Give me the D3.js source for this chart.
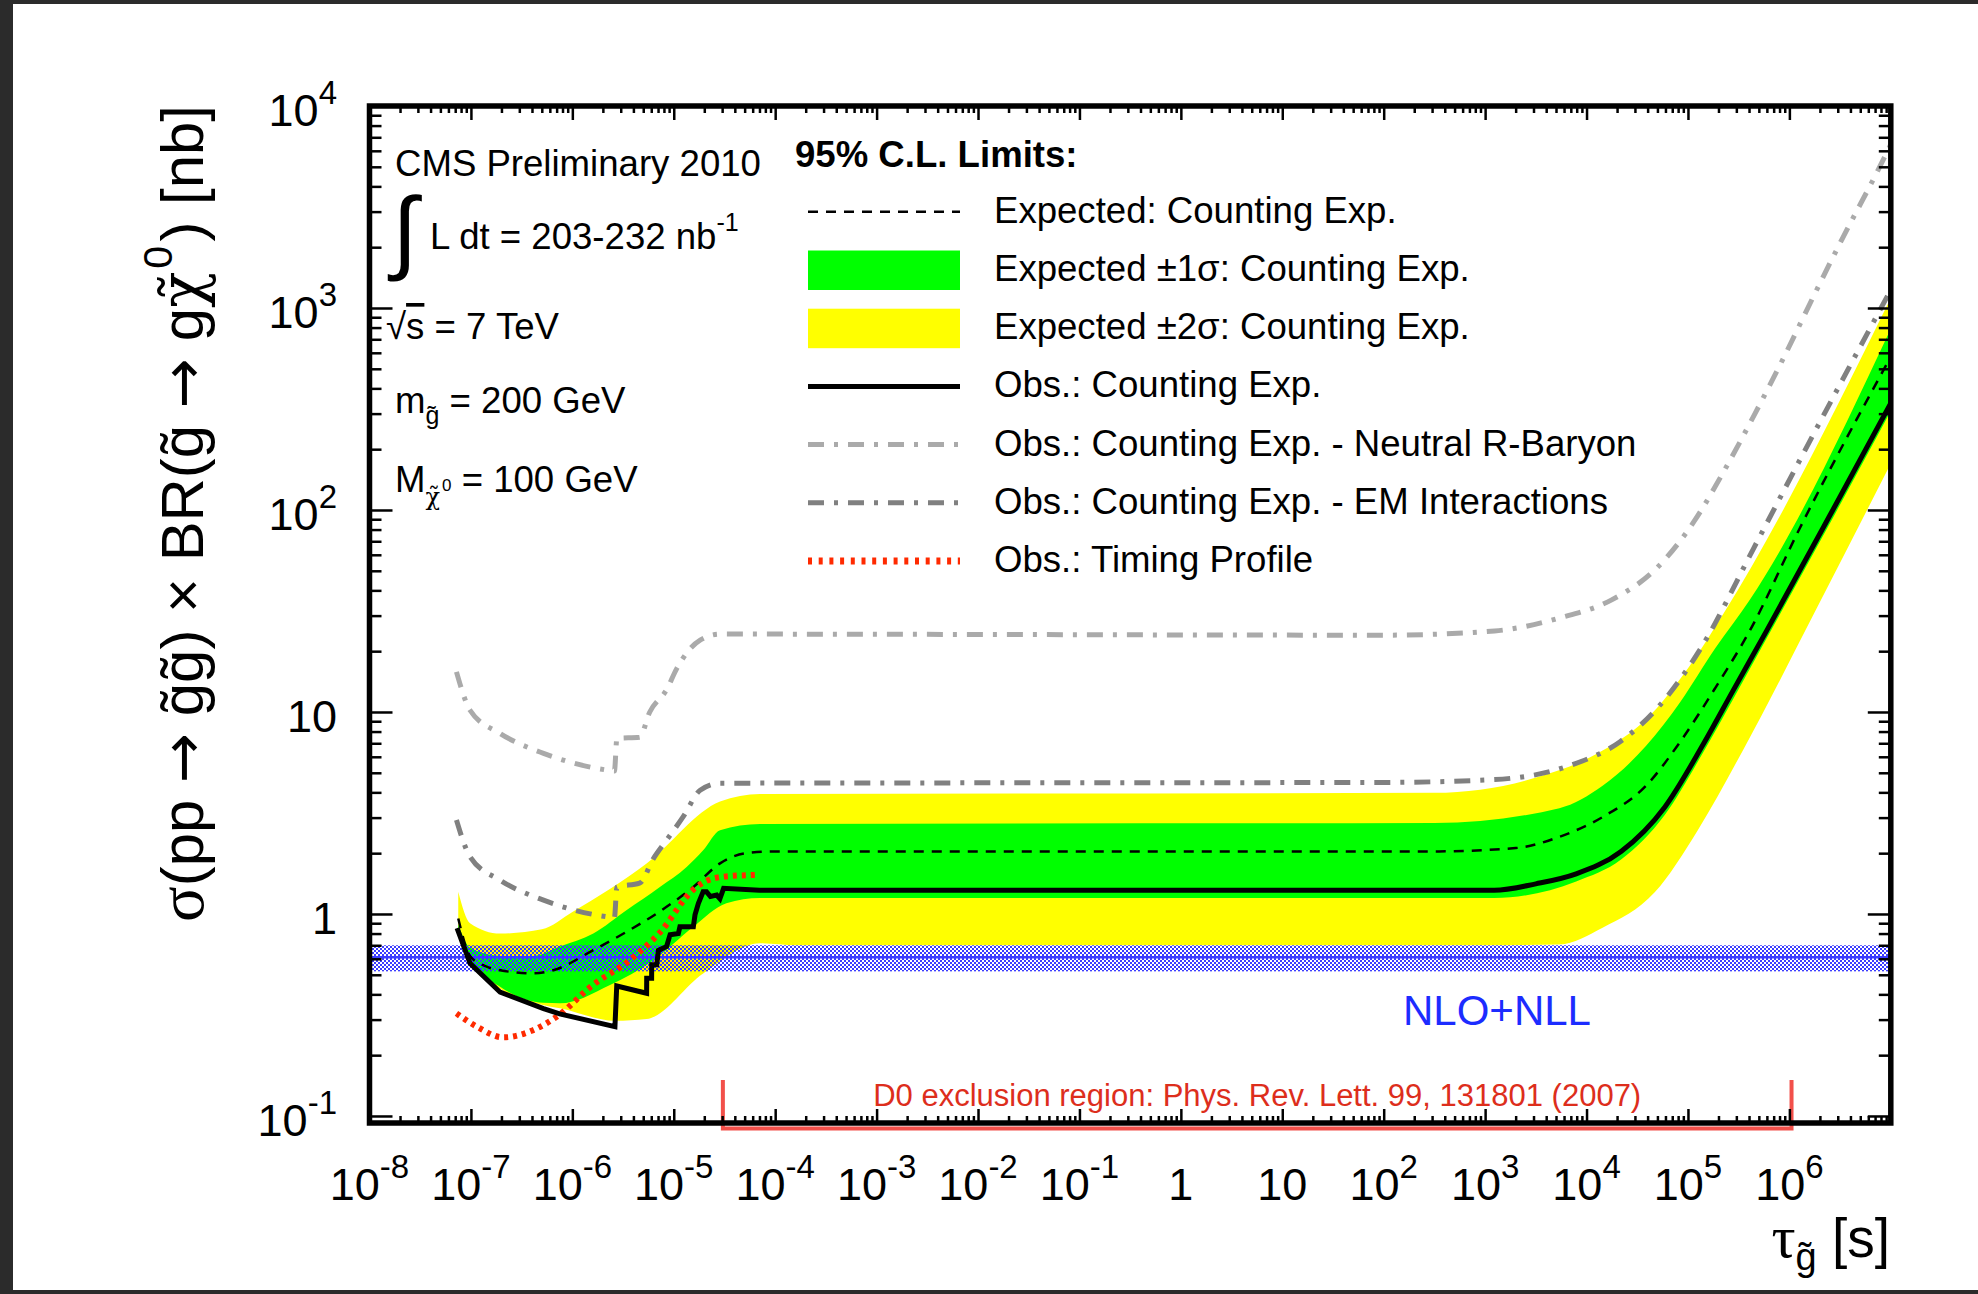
<!DOCTYPE html>
<html>
<head>
<meta charset="utf-8">
<script src="https://cdn.jsdelivr.net/npm/d3@7"></script>
<style>
  html, body { margin: 0; padding: 0; background: #2b2b2b; }
  svg { display: block; }
  text { font-family: "Liberation Sans", Arial, Helvetica, sans-serif; }
  .greek { font-family: "Liberation Serif", "Times New Roman", serif; }
  .chi { font-family: "DejaVu Serif", serif; }
  .arrow { font-family: "DejaVu Sans", sans-serif; }
</style>
</head>
<body>
<svg id="chart" width="1978" height="1294"></svg>
<script>
// ---------------------------------------------------------------
// Stopped-gluino search: 95% C.L. cross-section limits vs lifetime
// lifetimes in seconds, cross sections in nb
// ---------------------------------------------------------------

// Observed limit, counting experiment (step region, then smooth long-lifetime part)
const obsStepTau   = [7.3e-8, 9.8e-8, 1.94e-7, 5.2e-7, 7.5e-7, 2.63e-6, 2.74e-6, 5.4e-6, 5.41e-6, 6.05e-6, 6.06e-6, 6.8e-6, 7.05e-6, 8.5e-6, 9.2e-6, 1.11e-5, 1.15e-5, 1.56e-5, 1.62e-5, 1.75e-5, 1.95e-5, 2.1e-5, 2.3e-5, 2.65e-5, 2.85e-5, 3.1e-5, 7e-5];
const obsStepLimit = [0.85, 0.57, 0.41, 0.34, 0.32, 0.277, 0.44, 0.405, 0.48, 0.48, 0.56, 0.56, 0.66, 0.69, 0.79, 0.80, 0.865, 0.865, 0.99, 1.13, 1.29, 1.29, 1.22, 1.24, 1.19, 1.34, 1.31];
const obsLongTau   = [7e-5, 1.23e3, 3.16e3, 7.9e3, 2.19e4, 5.9e4, 1.41e5, 2.82e5, 5.9e5, 2.45e6, 1e7];
const obsLongLimit = [1.31, 1.31, 1.41, 1.58, 2.04, 3.38, 6.9, 12.9, 25, 92, 338];

// Expected limit, counting experiment
const expTau   = [7.5e-8, 9.8e-8, 1.41e-7, 1.94e-7, 4.1e-7, 6.5e-7, 1.61e-6, 3.44e-6, 7.3e-6, 1.56e-5, 2.86e-5, 5.2e-5, 1e-4, 316, 2e3, 5.4e3, 1.44e4, 3.85e4, 8.4e4, 1.85e5, 4.06e5, 1.27e6, 1e7];
const expLimit = [0.95, 0.62, 0.55, 0.527, 0.508, 0.527, 0.662, 0.817, 1.03, 1.36, 1.78, 2.0, 2.04, 2.04, 2.12, 2.41, 3.02, 4.31, 7.13, 13.1, 25.2, 81.5, 575];

// Expected +-1 sigma band
const exp1UpTau = [7.5e-8, 9.8e-8, 1.94e-7, 4.1e-7, 7.55e-7, 1.61e-6, 3.44e-6, 7.3e-6, 1.34e-5, 1.95e-5, 2.86e-5, 7.1e-5, 316, 5.4e3, 1.44e4, 3.85e4, 8.4e4, 1.85e5, 4.06e5, 1e7];
const exp1Up    = [0.89, 0.68, 0.62, 0.62, 0.69, 0.80, 1.045, 1.36, 1.71, 2.07, 2.6, 2.79, 2.82, 3.34, 4.31, 6.78, 11.2, 20.6, 35.8, 790];
const exp1DnTau = [7.5e-8, 9.8e-8, 1.94e-7, 5.2e-7, 7.55e-7, 2.35e-6, 6.3e-6, 1.56e-5, 3.3e-5, 7.1e-5, 1.23e3, 7.9e3, 2.19e4, 5.9e4, 1.41e5, 2.82e5, 5.9e5, 2.45e6, 1e7];
const exp1Dn    = [0.81, 0.59, 0.436, 0.363, 0.361, 0.445, 0.59, 0.865, 1.13, 1.2, 1.2, 1.45, 1.86, 3.09, 6.3, 11.7, 22.9, 84, 309];

// Expected +-2 sigma band
const exp2UpTau = [7.5e-8, 9.8e-8, 1.94e-7, 5e-7, 1.02e-6, 5.4e-6, 2.86e-5, 7.1e-5, 316, 3.3e3, 1.44e4, 3.85e4, 1.03e5, 2.25e5, 1e7];
const exp2Up    = [1.29, 0.90, 0.80, 0.84, 1.03, 1.78, 3.6, 3.93, 3.98, 4.76, 6.44, 9.18, 16.8, 30.8, 1120];
const exp2DnTau = [7.5e-8, 9.8e-8, 1.94e-7, 5e-7, 7.55e-7, 2.64e-6, 5.4e-6, 1.95e-5, 7.1e-5, 1.6e-4, 1e3, 5.4e3, 1.44e4, 4.7e4, 1.25e5, 3.5e5, 1.86e6, 1e7];
const exp2Dn    = [0.79, 0.575, 0.427, 0.355, 0.341, 0.296, 0.302, 0.508, 0.716, 0.70, 0.70, 0.706, 0.855, 1.28, 2.6, 6.49, 32.6, 170];

// Observed limit, neutral R-baryon model
const rbTau   = [7.2e-8, 9.8e-8, 1.94e-7, 5.2e-7, 2.18e-6, 2.6e-6, 2.75e-6, 4.6e-6, 5.8e-6, 8.5e-6, 1.07e-5, 1.82e-5, 2.86e-5, 100, 1.24e3, 5.4e3, 1.75e4, 5.1e4, 1.17e5, 2.3e5, 4.5e5, 8.7e5, 1.7e6, 3.3e6, 7.1e6, 1e7];
const rbLimit = [15.8, 10.2, 7.83, 6.24, 5.16, 5.1, 7.4, 7.5, 10.0, 12.9, 16.4, 22.7, 24.3, 24.0, 25.2, 29.2, 35.8, 52.5, 89, 158, 295, 562, 1122, 2188, 4571, 6457];

// Observed limit, EM interactions model
const emTau   = [7.2e-8, 9.8e-8, 1.94e-7, 5.2e-7, 2.18e-6, 2.6e-6, 2.75e-6, 4.6e-6, 6.3e-6, 8.5e-6, 1.24e-5, 1.82e-5, 2.86e-5, 100, 1.24e3, 6.6e3, 2.14e4, 5.2e4, 1.31e5, 4.47e5, 1.27e6, 1e7];
const emLimit = [2.92, 1.92, 1.47, 1.17, 0.97, 0.96, 1.36, 1.42, 1.88, 2.32, 3.03, 4.1, 4.44, 4.48, 4.63, 5.4, 7.13, 10.7, 20.3, 65, 177, 1230];

// Observed limit, timing profile analysis
const timingTau   = [7.2e-8, 1.14e-7, 2.08e-7, 4.1e-7, 7.0e-7, 1.61e-6, 3.44e-6, 7.3e-6, 1.56e-5, 1.95e-5, 3.08e-5, 6.3e-5];
const timingLimit = [0.322, 0.277, 0.245, 0.266, 0.31, 0.447, 0.575, 0.81, 1.32, 1.43, 1.53, 1.56];

// NLO+NLL gluino-pair cross section (central value and uncertainty band)
const nloXsec = 0.61;
const nloBand = [0.52, 0.70];

// D0 exclusion range in lifetime
const d0Range = [3.05e-5, 1.05e6];

// Axis tick labels (mantissa + exponent)
const xTickValues = [1e-8, 1e-7, 1e-6, 1e-5, 1e-4, 1e-3, 1e-2, 1e-1, 1, 10, 100, 1e3, 1e4, 1e5, 1e6];
const xTickMain   = ["10", "10", "10", "10", "10", "10", "10", "10", "1", "10", "10", "10", "10", "10", "10"];
const xTickSup    = ["-8", "-7", "-6", "-5", "-4", "-3", "-2", "-1", "", "", "2", "3", "4", "5", "6"];
const yTickValues = [0.1, 1, 10, 100, 1000, 10000];
const yTickMain   = ["10", "1", "10", "10", "10", "10"];
const yTickSup    = ["-1", "", "", "2", "3", "4"];

const legendTitle  = "95% C.L. Limits:";
const legendLabels = [
  "Expected: Counting Exp.",
  "Expected \u00b11\u03c3: Counting Exp.",
  "Expected \u00b12\u03c3: Counting Exp.",
  "Obs.: Counting Exp.",
  "Obs.: Counting Exp. - Neutral R-Baryon",
  "Obs.: Counting Exp. - EM Interactions",
  "Obs.: Timing Profile"
];

// ---------------------------------------------------------------
const W = 1978, H = 1294;
const frame = { left: 369.5, right: 1890.8, top: 106, bottom: 1123 };

const svg = d3.select("#chart");
const defs = svg.append("defs");

// page: dark surround with white canvas
svg.append("rect").attr("width", W).attr("height", H).attr("fill", "#2b2b2b");
svg.append("rect").attr("x", 13).attr("y", 4).attr("width", W - 13).attr("height", H - 8).attr("fill", "#ffffff");

const x = d3.scaleLog().domain([1e-8, 1e7]).range([frame.left, frame.right]);
const y = d3.scaleLog().domain([0.0923, 1e4]).range([frame.bottom, frame.top]);

defs.append("clipPath").attr("id", "plotClip")
  .append("rect")
  .attr("x", frame.left).attr("y", frame.top)
  .attr("width", frame.right - frame.left).attr("height", frame.bottom - frame.top);

// checkered hatch for the theory band
const pat = defs.append("pattern").attr("id", "checker")
  .attr("width", 4).attr("height", 4).attr("patternUnits", "userSpaceOnUse");
pat.append("rect").attr("x", 0).attr("y", 0).attr("width", 2).attr("height", 2).attr("fill", "#3c3cff");
pat.append("rect").attr("x", 2).attr("y", 2).attr("width", 2).attr("height", 2).attr("fill", "#3c3cff");

const plot = svg.append("g").attr("clip-path", "url(#plotClip)");

const straight = d3.line().x(d => x(d[0])).y(d => y(d[1]));
const smooth = d3.line().x(d => x(d[0])).y(d => y(d[1])).curve(d3.curveMonotoneX);

function bandPath(upT, upV, dnT, dnV) {
  const up = d3.zip(upT, upV);
  const dn = d3.zip(dnT, dnV).reverse();
  return smooth(up) + smooth(dn).replace(/^M/, "L") + "Z";
}

// +-2 sigma and +-1 sigma bands
plot.append("path").attr("d", bandPath(exp2UpTau, exp2Up, exp2DnTau, exp2Dn)).attr("fill", "#ffff00");
plot.append("path").attr("d", bandPath(exp1UpTau, exp1Up, exp1DnTau, exp1Dn)).attr("fill", "#00ff00");

// NLO+NLL band
plot.append("rect")
  .attr("x", frame.left).attr("width", frame.right - frame.left)
  .attr("y", y(nloBand[1])).attr("height", y(nloBand[0]) - y(nloBand[1]))
  .attr("fill", "url(#checker)");
plot.append("line")
  .attr("x1", frame.left).attr("x2", frame.right)
  .attr("y1", y(nloXsec)).attr("y2", y(nloXsec))
  .attr("stroke", "#3c3cff").attr("stroke-width", 2.5);

// alternative-model limits
const dashDot = "16,10,4,10";
plot.append("path").attr("d", smooth(d3.zip(rbTau, rbLimit)))
  .attr("fill", "none").attr("stroke", "#aaaaaa").attr("stroke-width", 5).attr("stroke-dasharray", dashDot);
plot.append("path").attr("d", smooth(d3.zip(emTau, emLimit)))
  .attr("fill", "none").attr("stroke", "#808080").attr("stroke-width", 5).attr("stroke-dasharray", dashDot);

// expected limit
plot.append("path").attr("d", smooth(d3.zip(expTau, expLimit)))
  .attr("fill", "none").attr("stroke", "#000").attr("stroke-width", 2.5).attr("stroke-dasharray", "10,8");

// timing-profile limit
plot.append("path").attr("d", smooth(d3.zip(timingTau, timingLimit)))
  .attr("fill", "none").attr("stroke", "#ff2a00").attr("stroke-width", 6).attr("stroke-dasharray", "4,5");

// observed limit
const obsPath = straight(d3.zip(obsStepTau, obsStepLimit)) +
  smooth(d3.zip(obsLongTau, obsLongLimit)).replace(/^M/, "L");
plot.append("path").attr("d", obsPath)
  .attr("fill", "none").attr("stroke", "#000").attr("stroke-width", 5)
  .attr("stroke-linejoin", "miter").attr("stroke-miterlimit", 4);

// D0 exclusion bracket
svg.append("path")
  .attr("d", `M${x(d0Range[0])},1080V1128.5H${x(d0Range[1])}V1080`)
  .attr("fill", "none").attr("stroke", "#f2504a").attr("stroke-width", 4);
svg.append("text")
  .attr("x", (x(d0Range[0]) + x(d0Range[1])) / 2).attr("y", 1106)
  .attr("text-anchor", "middle").attr("font-size", 31).attr("fill", "#dd2e1c")
  .text("D0 exclusion region: Phys. Rev. Lett. 99, 131801 (2007)");

svg.append("text").attr("x", 1403).attr("y", 1025)
  .attr("font-size", 42).attr("fill", "#1c2cff").text("NLO+NLL");

// ---------------- axes (ticks inside the frame) ----------------
function minorTicks(domainLo, domainHi) {
  const out = [];
  for (let e = Math.floor(Math.log10(domainLo)); e <= Math.ceil(Math.log10(domainHi)); e++) {
    for (let m = 2; m <= 9; m++) {
      const v = m * Math.pow(10, e);
      if (v > domainLo && v < domainHi) out.push(v);
    }
  }
  return out;
}
const xMinor = minorTicks(1e-8, 1e7);
const yMinor = minorTicks(0.0923, 1e4);
const xMajor = xTickValues.concat([1e7]);
const yMajor = yTickValues;

function styleAxis(g) {
  g.select(".domain").remove();
  g.selectAll("line").attr("stroke", "#000").attr("stroke-width", 2.5);
}
const axes = svg.append("g");
axes.append("g").attr("transform", `translate(${frame.left},0)`)
  .call(d3.axisLeft(y).tickValues(yMajor).tickSize(-23).tickSizeOuter(0).tickFormat("")).call(styleAxis);
axes.append("g").attr("transform", `translate(${frame.left},0)`)
  .call(d3.axisLeft(y).tickValues(yMinor).tickSize(-12).tickSizeOuter(0).tickFormat("")).call(styleAxis);
axes.append("g").attr("transform", `translate(${frame.right},0)`)
  .call(d3.axisRight(y).tickValues(yMajor).tickSize(-23).tickSizeOuter(0).tickFormat("")).call(styleAxis);
axes.append("g").attr("transform", `translate(${frame.right},0)`)
  .call(d3.axisRight(y).tickValues(yMinor).tickSize(-12).tickSizeOuter(0).tickFormat("")).call(styleAxis);
axes.append("g").attr("transform", `translate(0,${frame.bottom})`)
  .call(d3.axisBottom(x).tickValues(xMajor).tickSize(-14).tickSizeOuter(0).tickFormat("")).call(styleAxis);
axes.append("g").attr("transform", `translate(0,${frame.bottom})`)
  .call(d3.axisBottom(x).tickValues(xMinor).tickSize(-7).tickSizeOuter(0).tickFormat("")).call(styleAxis);
axes.append("g").attr("transform", `translate(0,${frame.top})`)
  .call(d3.axisTop(x).tickValues(xMajor).tickSize(-14).tickSizeOuter(0).tickFormat("")).call(styleAxis);
axes.append("g").attr("transform", `translate(0,${frame.top})`)
  .call(d3.axisTop(x).tickValues(xMinor).tickSize(-7).tickSizeOuter(0).tickFormat("")).call(styleAxis);

// frame
svg.append("rect")
  .attr("x", frame.left).attr("y", frame.top)
  .attr("width", frame.right - frame.left).attr("height", frame.bottom - frame.top)
  .attr("fill", "none").attr("stroke", "#000").attr("stroke-width", 5.5);

// tick labels
function powerLabel(parent, px, py, main, sup, anchor) {
  const t = parent.append("text").attr("x", px).attr("y", py)
    .attr("text-anchor", anchor).attr("font-size", 45).attr("fill", "#000");
  t.append("tspan").text(main);
  if (sup) t.append("tspan").attr("font-size", 33).attr("dy", -22).text(sup);
}
const labels = svg.append("g");
xTickValues.forEach((v, i) => powerLabel(labels, x(v), 1200, xTickMain[i], xTickSup[i], "middle"));
yTickValues.forEach((v, i) => powerLabel(labels, 337, y(v) + 20, yTickMain[i], yTickSup[i], "end"));

// axis titles
const xt = svg.append("text").attr("x", 1890).attr("y", 1257)
  .attr("text-anchor", "end").attr("font-size", 55).attr("fill", "#000");
xt.append("tspan").attr("class", "greek").attr("font-size", 60).text("\u03c4");
xt.append("tspan").attr("font-size", 38).attr("dy", 13).text("g\u0303");
xt.append("tspan").attr("font-size", 55).attr("dy", -13).text(" [s]");

const yt = svg.append("text")
  .attr("text-anchor", "end").attr("font-size", 58).attr("fill", "#000");
yt.append("tspan").attr("class", "greek").attr("font-size", 64).text("\u03c3");
yt.append("tspan").text("(pp ");
yt.append("tspan").attr("class", "arrow").text("\u2192");
yt.append("tspan").text(" g\u0303g\u0303) \u00d7 BR(g\u0303 ");
yt.append("tspan").attr("class", "arrow").text("\u2192");
yt.append("tspan").text(" g");
yt.append("tspan").attr("class", "chi").attr("font-size", 58).text("\u03c7\u0303");
yt.append("tspan").attr("font-size", 40).attr("dx", 3).attr("dy", -30).text("0");
yt.append("tspan").attr("dx", 4).attr("dy", 30).text(") [nb]");
// fit the rotated title to its span along the left side
const ytLen = yt.node().getComputedTextLength();
const ytScale = 810 / ytLen;
yt.attr("transform", `translate(203,105) rotate(-90) scale(${ytScale})`);

// ---------------- annotation block ----------------
const fs = 36.6;
svg.append("text").attr("x", 395).attr("y", 176).attr("font-size", fs).text("CMS Preliminary 2010");
svg.append("text").attr("x", 392).attr("y", 262).attr("font-size", 92).text("\u222b");
const lumi = svg.append("text").attr("x", 430).attr("y", 249).attr("font-size", fs);
lumi.append("tspan").text("L dt = 203-232 nb");
lumi.append("tspan").attr("font-size", 25).attr("dy", -18).text("-1");

const rs = svg.append("text").attr("x", 386).attr("y", 339).attr("font-size", fs);
rs.append("tspan").text("\u221a");
rs.append("tspan").attr("text-decoration", "overline").text("s");
rs.append("tspan").text(" = 7 TeV");

const mg = svg.append("text").attr("x", 395).attr("y", 413).attr("font-size", fs);
mg.append("tspan").text("m");
mg.append("tspan").attr("font-size", 25).attr("dy", 11).text("g\u0303");
mg.append("tspan").attr("font-size", fs).attr("dy", -11).text(" = 200 GeV");

const mc = svg.append("text").attr("x", 395).attr("y", 492).attr("font-size", fs);
mc.append("tspan").text("M");
mc.append("tspan").attr("class", "chi").attr("font-size", 24).attr("dy", 13).text("\u03c7\u0303");
mc.append("tspan").attr("font-size", 17).attr("dx", 2).attr("dy", -14).text("0");
mc.append("tspan").attr("font-size", fs).attr("dy", 1).text(" = 100 GeV");

// ---------------- legend ----------------
svg.append("text").attr("x", 795).attr("y", 167).attr("font-size", fs)
  .attr("font-weight", "bold").text(legendTitle);

const rowY = i => 211.8 + 58.2 * i;
const sx0 = 808, sx1 = 960;
const lg = svg.append("g");
legendLabels.forEach((label, i) => {
  lg.append("text").attr("x", 994).attr("y", rowY(i) + 11).attr("font-size", fs).text(label);
});
lg.append("line").attr("x1", sx0).attr("x2", sx1).attr("y1", rowY(0)).attr("y2", rowY(0))
  .attr("stroke", "#000").attr("stroke-width", 2.5).attr("stroke-dasharray", "10,8");
lg.append("rect").attr("x", sx0).attr("width", sx1 - sx0).attr("y", rowY(1) - 19.5).attr("height", 39.5).attr("fill", "#00ff00");
lg.append("rect").attr("x", sx0).attr("width", sx1 - sx0).attr("y", rowY(2) - 19.5).attr("height", 39.5).attr("fill", "#ffff00");
lg.append("line").attr("x1", sx0).attr("x2", sx1).attr("y1", rowY(3)).attr("y2", rowY(3))
  .attr("stroke", "#000").attr("stroke-width", 5);
lg.append("line").attr("x1", sx0).attr("x2", sx1).attr("y1", rowY(4)).attr("y2", rowY(4))
  .attr("stroke", "#aaaaaa").attr("stroke-width", 5).attr("stroke-dasharray", dashDot);
lg.append("line").attr("x1", sx0).attr("x2", sx1).attr("y1", rowY(5)).attr("y2", rowY(5))
  .attr("stroke", "#808080").attr("stroke-width", 5).attr("stroke-dasharray", dashDot);
lg.append("line").attr("x1", sx0).attr("x2", sx1).attr("y1", rowY(6)).attr("y2", rowY(6))
  .attr("stroke", "#ff2a00").attr("stroke-width", 7).attr("stroke-dasharray", "4,6.7");
</script>
</body>
</html>
